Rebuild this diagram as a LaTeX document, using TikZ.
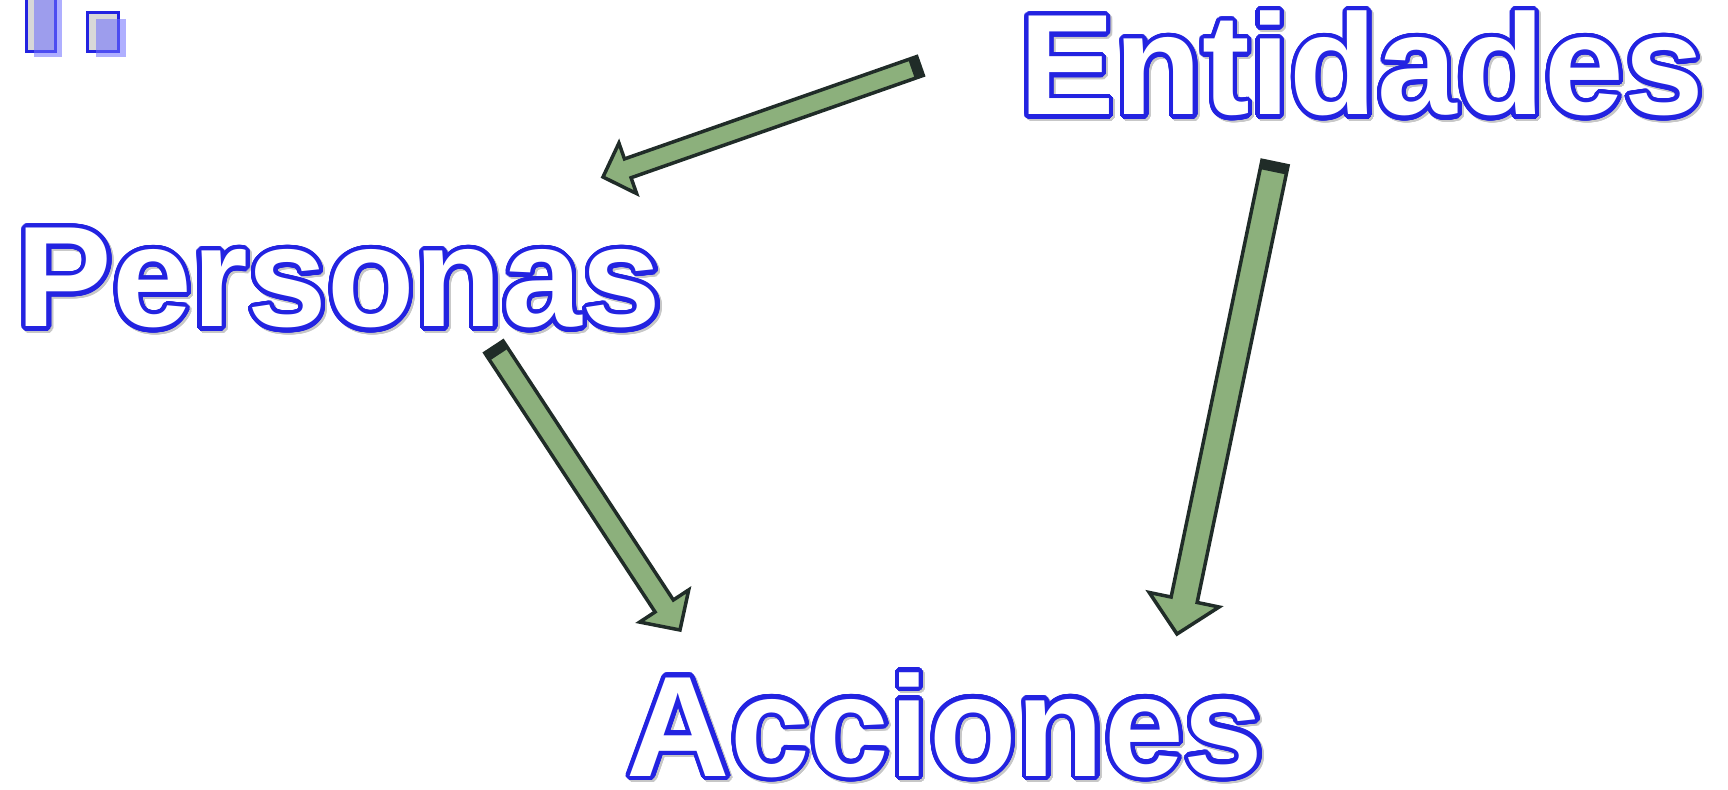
\documentclass[tikz,border=0pt]{standalone}
\usepackage{fontspec}
\setmainfont{Liberation Sans}
\usepackage{contour}
\usetikzlibrary{calc}
\definecolor{blu}{RGB}{35,35,225}
\definecolor{verde}{RGB}{140,176,124}
\definecolor{scuro}{RGB}{32,44,40}
\definecolor{grigio}{RGB}{216,216,216}
\definecolor{ombrablu}{RGB}{110,110,255}
\contourlength{2.4pt}
\contournumber{40}

\tikzset{
  parola/.style={inner sep=0pt, anchor=base west, text=white, font=\fontsize{81.5}{92}\selectfont\bfseries},
  parolaombra/.style={parola, text=black!22},
  freccia/.style={fill=verde, draw=scuro, line width=0.07cm, line join=miter},
  quadrato/.style={fill=grigio, draw=blu, line width=0.06cm},
  ombra/.style={fill=ombrablu, opacity=0.55}
}

% [fattore]{da}{a}
\newcommand{\frecciaverde}[3][1]{%
  \pgfmathsetmacro\corpo{0.19*#1}
  \pgfmathsetmacro\testa{0.51*#1}
  \pgfmathsetmacro\lung{0.5*#1}
  \coordinate (collo) at ($(#3)!\lung cm!(#2)$);
  \coordinate (coda) at ($(#2)!0.18cm!(#3)$);
  \filldraw[freccia] ($(#2)!\corpo cm!90:(#3)$) -- ($(collo)!\corpo cm!90:(#3)$) -- ($(collo)!\testa cm!90:(#3)$) -- (#3) -- ($(collo)!\testa cm!-90:(#3)$) -- ($(collo)!\corpo cm!-90:(#3)$) -- ($(#2)!\corpo cm!-90:(#3)$) -- cycle;
  \fill[scuro] ($(#2)!\corpo cm!90:(#3)$) -- ($(coda)!\corpo cm!90:(#3)$) -- ($(coda)!\corpo cm!-90:(#3)$) -- ($(#2)!\corpo cm!-90:(#3)$) -- cycle;
}

\begin{document}
\begin{tikzpicture}
        \useasboundingbox (0,0) rectangle (34.56,15.78);
        %disegno quadratini in alto
        \draw[quadrato] (0.52,14.74) rectangle (1.1,16.2);
        \fill[ombra] (0.68,14.64) rectangle (1.24,16.2);
        \draw[quadrato] (1.74,14.74) rectangle (2.36,15.52);
        \fill[ombra] (1.92,14.64) rectangle (2.52,15.4);
        %disegno ombre delle parole
        \node[parolaombra] (entidades-ombra) at (20.42,13.44) {\contour{black!22}{Entidades}};
        \node[parolaombra] (personas-ombra) at (0.37,9.20) {\contour{black!22}{Personas}};
        \node[parolaombra] (acciones-ombra) at (12.57,0.22) {\contour{black!22}{Acciones}};
        %disegno parole
        \node[parola] (entidades) at (20.38,13.48) {\contour{blu}{Entidades}};
        \node[parola] (personas) at (0.33,9.24) {\contour{blu}{Personas}};
        \node[parola] (acciones) at (12.53,0.26) {\contour{blu}{Acciones}};
        %estremi delle frecce
        \coordinate (ent-per) at (18.4,14.46);
        \coordinate (per-ent) at (12.06,12.24);
        \coordinate (per-acc) at (9.88,8.84);
        \coordinate (acc-per) at (13.6,3.18);
        \coordinate (ent-acc) at (25.5,12.52);
        \coordinate (acc-ent) at (23.54,3.1);
        %disegno frecce verdi
        \frecciaverde[1.05]{ent-per}{per-ent}
        \frecciaverde[1.15]{per-acc}{acc-per}
        \frecciaverde[1.4]{ent-acc}{acc-ent}
    \end{tikzpicture}
\end{document}
